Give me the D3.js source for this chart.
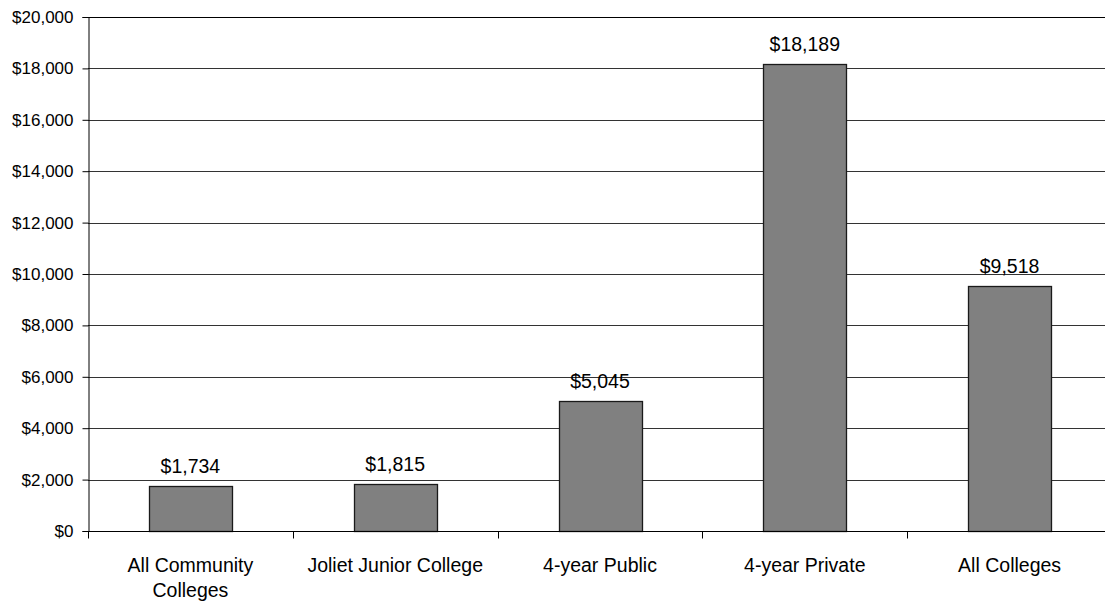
<!DOCTYPE html>
<html>
<head>
<meta charset="utf-8">
<script src="https://cdn.jsdelivr.net/npm/d3@7"></script>
<style>
  body { margin: 0; background: #fff; }
  svg { display: block; font-family: "Liberation Sans", Arial, sans-serif; }
</style>
</head>
<body>
<script>
var categories = ['All Community Colleges', 'Joliet Junior College', '4-year Public', '4-year Private', 'All Colleges'];
var values = [1734, 1815, 5045, 18189, 9518];
var yTicks = [0, 2000, 4000, 6000, 8000, 10000, 12000, 14000, 16000, 18000, 20000];

var data = categories.map(function (c, i) {
    return { name: c, value: values[i] };
});

var margin = { top: 17, right: -7, bottom: 73, left: 88 },
    width = 1105 - margin.left - margin.right,
    height = 604 - margin.top - margin.bottom;

var svg = d3.select('body')
    .append('svg')
    .attr('width', 1105)
    .attr('height', 604);

var canvas = svg.append('g')
    .attr('transform', 'translate(' + margin.left + ',' + margin.top + ')');

var x = d3.scaleBand()
    .domain(categories)
    .range([0, width])
    .paddingInner(0.595)
    .paddingOuter(0.2975);

var xBand = d3.scaleBand()
    .domain(categories)
    .range([0, width]);

var y = d3.scaleLinear()
    .domain([0, 20000])
    .range([height, 0]);

var fmt = function (d) { return '$' + d3.format(',')(d); };

// gridlines
canvas.append('g')
    .selectAll('line')
    .data(yTicks.slice(1))
    .enter()
    .append('line')
    .attr('x1', 0)
    .attr('x2', width)
    .attr('y1', function (d) { return Math.round(y(d)) + 0.5; })
    .attr('y2', function (d) { return Math.round(y(d)) + 0.5; })
    .attr('stroke', function (d) { return d === 20000 ? '#000' : '#333'; })
    .attr('stroke-width', 1);

// y axis
var yAxis = canvas.append('g')
    .attr('transform', 'translate(0.5,0)')
    .call(d3.axisLeft(y).tickValues(yTicks).tickFormat(fmt).tickSize(6).tickPadding(9));
yAxis.select('.domain').attr('stroke', '#000');
yAxis.selectAll('.tick line').attr('stroke', '#000');
yAxis.selectAll('.tick text')
    .attr('font-size', 17)
    .attr('fill', '#000')
    .attr('font-family', '"Liberation Sans", Arial, sans-serif');

// bars
canvas.selectAll('.bar')
    .data(data)
    .enter()
    .append('rect')
    .attr('class', 'bar')
    .attr('x', function (d) { return Math.round(x(d.name)) + 0.5; })
    .attr('y', function (d) { return Math.round(y(d.value)) + 0.5; })
    .attr('width', Math.round(x.bandwidth()))
    .attr('height', function (d) { return Math.round(height - y(d.value)); })
    .attr('fill', '#808080')
    .attr('stroke', '#1a1a1a')
    .attr('stroke-width', 1.3);

// value labels
canvas.selectAll('.val')
    .data(data)
    .enter()
    .append('text')
    .attr('class', 'val')
    .attr('x', function (d) { return x(d.name) + x.bandwidth() / 2; })
    .attr('y', function (d) { return y(d.value) - 13; })
    .attr('text-anchor', 'middle')
    .attr('font-size', 19.5)
    .attr('fill', '#000')
    .text(function (d) { return fmt(d.value); });

// x axis
var xAxis = canvas.append('g')
    .attr('transform', 'translate(0,' + (height + 0.5) + ')');
xAxis.append('line')
    .attr('x1', 0)
    .attr('x2', width)
    .attr('stroke', '#000');
xAxis.selectAll('.sep')
    .data(categories)
    .enter()
    .append('line')
    .attr('class', 'sep')
    .attr('x1', function (d) { return Math.round(xBand(d)) + 0.5; })
    .attr('x2', function (d) { return Math.round(xBand(d)) + 0.5; })
    .attr('y1', 0)
    .attr('y2', 7)
    .attr('stroke', '#000');

var labels = xAxis.selectAll('.cat')
    .data(categories)
    .enter()
    .append('text')
    .attr('class', 'cat')
    .attr('x', function (d) { return xBand(d) + xBand.bandwidth() / 2; })
    .attr('y', 40)
    .attr('text-anchor', 'middle')
    .attr('font-size', 19.5)
    .attr('fill', '#000');

labels.each(function (d) {
    var text = d3.select(this);
    var words = d.split(' ');
    var line = [];
    var cx = text.attr('x');
    var tspan = text.append('tspan').attr('x', cx).attr('dy', 0);
    words.forEach(function (w) {
        line.push(w);
        tspan.text(line.join(' '));
        if (tspan.node().getComputedTextLength() > 185 && line.length > 1) {
            line.pop();
            tspan.text(line.join(' '));
            line = [w];
            tspan = text.append('tspan').attr('x', cx).attr('dy', 25).text(w);
        }
    });
});
</script>
</body>
</html>
